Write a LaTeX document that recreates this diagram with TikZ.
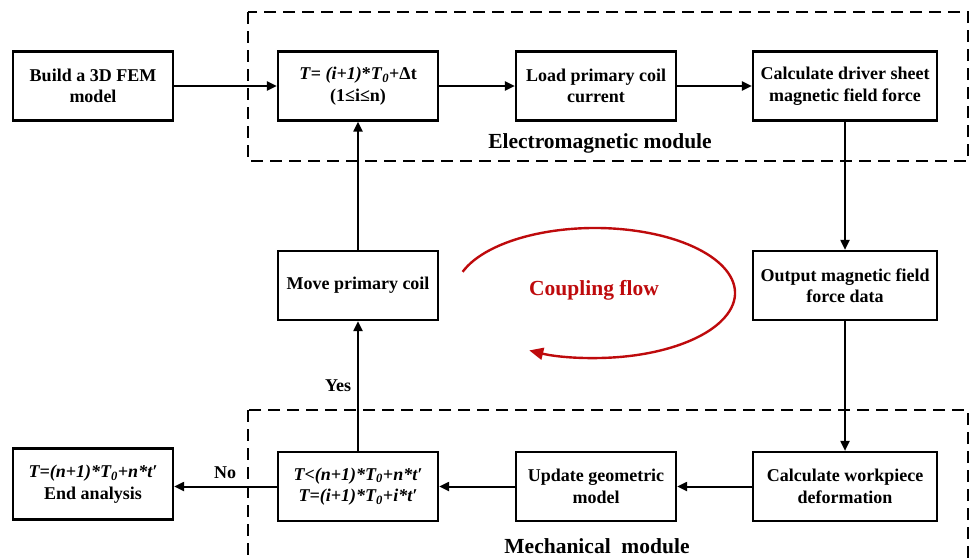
\documentclass[tikz,border=0pt]{standalone}
\usepackage{fontspec}
\setmainfont{Liberation Serif}
\usetikzlibrary{arrows.meta}
\definecolor{cred}{RGB}{190,10,12}
\begin{document}
\begin{tikzpicture}[x=1pt,y=-1pt,
  box/.style={draw,line width=2.2pt,minimum height=69pt,align=center,inner sep=0pt,
    font=\fontsize{18}{21.5}\selectfont\bfseries},
  arr/.style={line width=2pt,-{Triangle[length=10pt,width=9pt]}},
  module/.style={draw,line width=2pt,dash pattern=on 12pt off 7pt},
  lbl/.style={font=\fontsize{18}{21}\selectfont\bfseries}]
\useasboundingbox (0,0) rectangle (971,557);
\clip (0,0) rectangle (971,557);
% modules
\draw[module] (248,12) rectangle (968,161);
\draw[module] (248,410) rectangle (968,580);
\node[font=\fontsize{21.5}{25}\selectfont\bfseries] (emlab) at (600,143) {Electromagnetic module};
\node[font=\fontsize{21.5}{25}\selectfont\bfseries] (melab) at (597,546) {Mechanical\ \ module};
% boxes
\node[box,minimum width=160pt] (build) at (93,86) {Build a 3D FEM\\model};
\node[box,minimum width=160pt] (tbox) at (358,86) {\textit{T}= \textit{(i+1)}*\textit{T}\textsubscript{\textit{0}}+Δt\\(1≤i≤n)};
\node[box,minimum width=160pt] (load) at (596,86) {Load primary coil\\current};
\node[box,minimum width=184pt] (calc) at (845,86) {Calculate driver sheet\\magnetic field force};
\node[box,minimum width=184pt] (output) at (845,285.5) {Output magnetic field\\force data};
\node[box,minimum width=184pt] (work) at (845,486.5) {Calculate workpiece\\deformation};
\node[box,minimum width=160pt] (update) at (596,486.5) {Update geometric\\model};
\node[box,minimum width=160pt] (tless) at (358,486.5) {\textit{T<(n+1)*T\textsubscript{0}+n*t′}\\\textit{T=(i+1)*T\textsubscript{0}+i*t′}};
\node[box,minimum width=160pt,minimum height=71pt] (endn) at (93,484) {\textit{T=(n+1)*T\textsubscript{0}+n*t′}\\End analysis};
\node[box,minimum width=160pt] (move) at (358,285.5) {Move primary coil};
% arrows
\draw[arr] (build) -- (tbox);
\draw[arr] (tbox) -- (load);
\draw[arr] (load) -- (calc);
\draw[arr] (calc) -- (output);
\draw[arr] (output) -- (work);
\draw[arr] (work) -- (update);
\draw[arr] (update) -- (tless);
\draw[arr] (tless.west) -- (endn.east |- tless.west);
\draw[arr] (tless) -- (move);
\draw[arr] (move) -- (tbox);
\node[lbl] (yes) at (338,386) {Yes};
\node[lbl] (no) at (225,473) {No};
% coupling flow
\draw[cred,line width=2.4pt,-{Triangle[length=14pt,width=12pt]}]
  (595,293) ++(199:140 and 65) arc[start angle=199,end angle=478,x radius=140,y radius=65];
\node[text=cred,font=\fontsize{21.5}{25}\selectfont\bfseries] (cf) at (594,290) {Coupling flow};
\end{tikzpicture}
\end{document}
